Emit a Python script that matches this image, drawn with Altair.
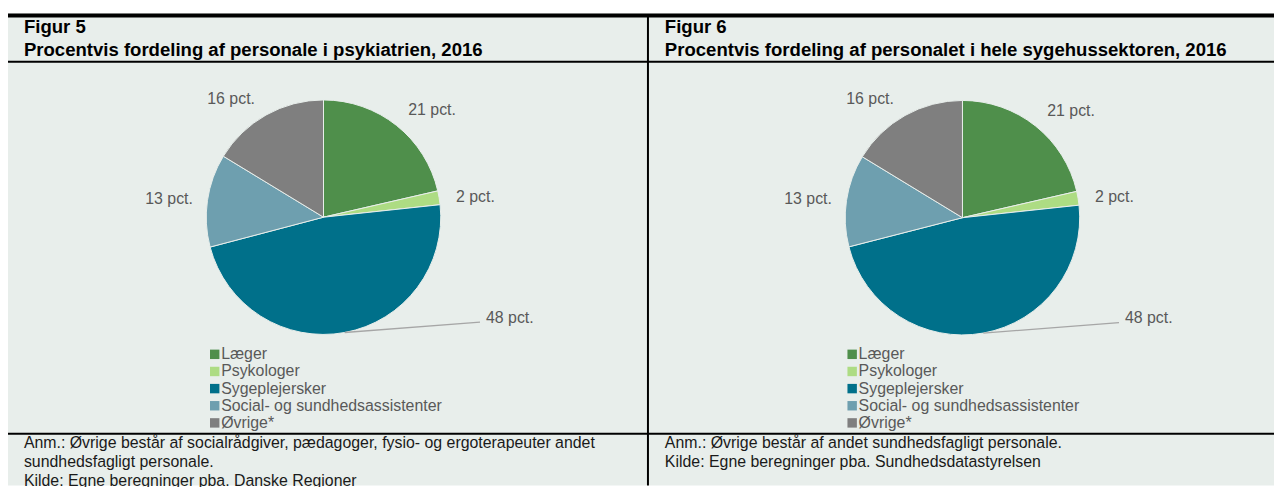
import math
import altair as alt
import pandas as pd

# ---------------- data ----------------
categories = ["Læger", "Psykologer", "Sygeplejersker",
              "Social- og sundhedsassistenter", "Øvrige*"]
values_fig5 = [21.4, 1.9, 47.6, 12.8, 16.3]
values_fig6 = [21.4, 1.9, 47.7, 12.7, 16.3]
colors = ["#4f8f4b", "#addc83", "#00708a", "#6e9faf", "#7f7f7f"]

fig_numbers = ["Figur 5", "Figur 6"]
fig_titles = ["Procentvis fordeling af personale i psykiatrien, 2016",
              "Procentvis fordeling af personalet i hele sygehussektoren, 2016"]
notes_fig5 = ["Anm.: Øvrige består af socialrådgiver, pædagoger, fysio- og ergoterapeuter andet",
              "sundhedsfagligt personale.",
              "Kilde: Egne beregninger pba. Danske Regioner"]
notes_fig6 = ["Anm.: Øvrige består af andet sundhedsfagligt personale.",
              "Kilde: Egne beregninger pba. Sundhedsdatastyrelsen"]

# ---------------- style ----------------
W, H = 1274, 479
BG = "#e8eeeb"
FONT = "Liberation Sans, Arial, Helvetica, sans-serif"
LABEL_COLOR = "#595959"
R = 118
R_LAB = 153
# nudges of the outside labels (Excel "best fit" placement)
NUDGE = {0: (14, 12), 1: (2, 5), 3: (-4, 4), 4: (-18, 14)}

color_scale = alt.Scale(domain=categories, range=colors)
theta_scale = alt.Scale(domain=[0, 100])


def text_layer(txt, x, y, size=16, bold=False, color="#1a1a1a", align="left", baseline="alphabetic"):
    return alt.Chart(pd.DataFrame({"t": [txt]})).mark_text(
        font=FONT, fontSize=size, fontWeight="bold" if bold else "normal",
        color=color, align=align, baseline=baseline
    ).encode(x=alt.value(x), y=alt.value(y), text="t:N")


def rect_layer(x, x2, y, y2, fill):
    return alt.Chart(pd.DataFrame({"a": [0]})).mark_rect(fill=fill).encode(
        x=alt.value(x), x2=alt.value(x2), y=alt.value(y), y2=alt.value(y2))


def panel(values, cx, cy, title_x, number, title, notes, legend_x):
    df = pd.DataFrame({
        "cat": categories,
        "value": values,
        "idx": list(range(len(values))),
        "label": [f"{round(v)} pct." for v in values],
    })
    base = alt.Chart(df)
    layers = []
    arc = base.mark_arc(radius=R, stroke=BG, strokeWidth=1).encode(
        theta=alt.Theta("value:Q", stack=True, scale=theta_scale),
        color=alt.Color("cat:N", scale=color_scale, legend=None),
        order=alt.Order("idx:Q"),
        x=alt.value(cx), y=alt.value(cy),
    )
    layers.append(arc)

    mids = base.transform_window(
        cum="sum(value)", sort=[alt.SortField("idx")], frame=[None, 0]
    ).transform_calculate(mid="datum.cum - datum.value / 2")

    for i, (dx, dy) in NUDGE.items():
        layers.append(
            mids.transform_filter(alt.datum.idx == i).mark_text(
                radius=R_LAB, dx=dx, dy=dy, font=FONT, fontSize=16,
                color=LABEL_COLOR, align="center", baseline="middle"
            ).encode(theta=alt.Theta("mid:Q", scale=theta_scale), text="label:N",
                     x=alt.value(cx), y=alt.value(cy))
        )

    # largest slice: label with leader line
    big = 2
    before = sum(values[:big])
    a = 2 * math.pi * (before + values[big] / 2) / 100
    lab_cx, lab_cy = cx + 187.5, cy + 101
    sx, sy = cx + R * math.sin(a), cy - R * math.cos(a)
    ex, ey = lab_cx - 30, lab_cy + 4.7
    layers.append(
        alt.Chart(pd.DataFrame({"a": [0]})).mark_rule(color="#a6a6a6", strokeWidth=1.3).encode(
            x=alt.value(sx), y=alt.value(sy), x2=alt.value(ex), y2=alt.value(ey))
    )
    lx = cx + R_LAB * math.sin(a)
    ly = cy - R_LAB * math.cos(a)
    layers.append(
        mids.transform_filter(alt.datum.idx == big).mark_text(
            radius=R_LAB, dx=lab_cx - lx, dy=lab_cy - ly, font=FONT, fontSize=16,
            color=LABEL_COLOR, align="center", baseline="middle"
        ).encode(theta=alt.Theta("mid:Q", scale=theta_scale), text="label:N",
                 x=alt.value(cx), y=alt.value(cy))
    )

    # legend
    ysc = alt.Scale(domain=categories, range=[347, 416], type="point", padding=0)
    layers.append(base.mark_square(size=90, opacity=1).encode(
        x=alt.value(legend_x), y=alt.Y("cat:N", scale=ysc, axis=None),
        color=alt.Color("cat:N", scale=color_scale, legend=None)))
    layers.append(base.mark_text(font=FONT, fontSize=16, color=LABEL_COLOR,
                                 align="left", baseline="middle").encode(
        x=alt.value(legend_x + 6.5), y=alt.Y("cat:N", scale=ysc, axis=None), text="cat:N"))

    # titles
    layers.append(text_layer(number, title_x, 24, size=18.67, bold=True, color="#000000"))
    layers.append(text_layer(title, title_x, 47, size=18.67, bold=True, color="#000000"))
    for k, line in enumerate(notes):
        layers.append(text_layer(line, title_x, 441 + 19.5 * k, size=16, color="#1a1a1a"))
    return layers


layers = [
    rect_layer(0, W, 4, H, BG),
    rect_layer(0, W, 4, 8, "#000000"),
    rect_layer(0, W, 51.5, 53.5, "#000000"),
    rect_layer(0, W, 426, 428, "#000000"),
    rect_layer(643, 645, 6, H, "#000000"),
]
layers += panel(values_fig5, 317.5, 209, 16, fig_numbers[0], fig_titles[0], notes_fig5, 208)
layers += panel(values_fig6, 960.5, 209.5, 661, fig_numbers[1], fig_titles[1], notes_fig6, 849.5)

chart = alt.layer(*layers).properties(
    width=W, height=H, padding=0,
    autosize=alt.AutoSizeParams(type="none"),
).configure_view(stroke=None)

chart.save("out.html", embed_options={"renderer": "svg", "actions": False})
